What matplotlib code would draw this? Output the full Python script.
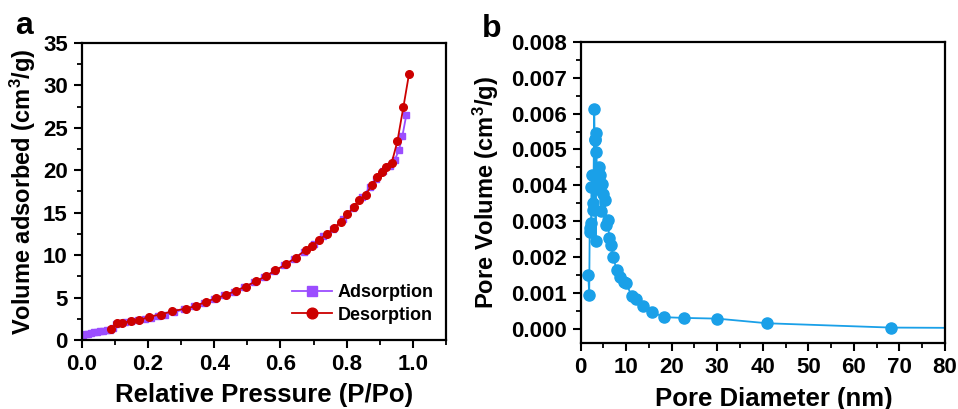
import matplotlib
matplotlib.use("Agg")
import matplotlib.pyplot as plt
from matplotlib.ticker import MultipleLocator, AutoMinorLocator

plt.rcParams['font.family'] = ['Liberation Sans', 'DejaVu Sans']
plt.rcParams['font.weight'] = 'bold'
plt.rcParams['mathtext.default'] = 'regular'

# N2 isotherm (panel a)
ads_p = [0.005, 0.012, 0.02, 0.028, 0.036, 0.045, 0.055, 0.065, 0.075, 0.085,
         0.095, 0.105, 0.115, 0.13, 0.15, 0.17, 0.19, 0.21, 0.23, 0.25, 0.28,
         0.31, 0.34, 0.37, 0.40, 0.43, 0.46, 0.49, 0.52, 0.55, 0.58, 0.61, 0.64,
         0.67, 0.70, 0.73, 0.76, 0.79, 0.82, 0.845, 0.87, 0.89, 0.91, 0.93,
         0.945, 0.958, 0.968, 0.98]
ads_v = [0.6, 0.68, 0.76, 0.84, 0.9, 0.96, 1.02, 1.08, 1.13, 1.2,
         1.45, 1.85, 2.05, 2.15, 2.25, 2.35, 2.5, 2.65, 2.85, 3.0, 3.3,
         3.6, 3.95, 4.4, 4.8, 5.25, 5.7, 6.2, 6.8, 7.4, 8.1, 8.8, 9.55,
         10.4, 11.3, 12.2, 13.1, 14.3, 15.6, 16.8, 18.0, 19.0, 19.9, 20.5,
         21.2, 22.4, 24.0, 26.5]
des_p = [0.088, 0.108, 0.123, 0.148, 0.173, 0.203, 0.238, 0.274, 0.314, 0.344,
         0.374, 0.404, 0.435, 0.465, 0.495, 0.525, 0.555, 0.585, 0.616, 0.646,
         0.676, 0.696, 0.716, 0.741, 0.762, 0.782, 0.802, 0.822, 0.837, 0.857,
         0.877, 0.892, 0.907, 0.920, 0.936, 0.953, 0.971, 0.988]
des_v = [1.3, 2.0, 2.05, 2.2, 2.3, 2.75, 3.0, 3.4, 3.7, 4.0,
         4.5, 4.9, 5.3, 5.8, 6.3, 6.9, 7.5, 8.2, 8.9, 9.7,
         10.6, 11.1, 11.8, 12.5, 13.2, 13.9, 14.8, 15.7, 16.5, 17.1,
         18.3, 19.2, 19.8, 20.4, 20.9, 23.4, 27.4, 31.3]

# pore size distribution (panel b)
pore_d = [1.7, 1.9, 2.0, 2.1, 2.3, 2.4, 2.6, 2.7, 2.8, 3.0, 3.1, 3.2, 3.3, 3.4,
          3.5, 3.6, 3.8, 4.0, 4.3, 4.5, 4.7, 5.0, 5.3, 5.6, 6.0, 6.3, 6.7, 7.2,
          7.9, 8.6, 9.5, 10.0, 11.2, 12.2, 13.7, 15.7, 18.4, 22.7, 30.0, 41.0,
          68.1, 85.0]
pore_v = [0.00150, 0.00095, 0.00270, 0.00280, 0.00294, 0.00395, 0.00428, 0.00350,
          0.00330, 0.00612, 0.00526, 0.00530, 0.00245, 0.00545, 0.00494, 0.00420,
          0.00390, 0.00452, 0.00430, 0.00327, 0.00405, 0.00375, 0.00360, 0.00290,
          0.00304, 0.00253, 0.00234, 0.00199, 0.00164, 0.00145, 0.00130, 0.00128,
          0.00091, 0.00083, 0.00062, 0.00046, 0.00032, 0.00030, 0.00028, 0.00015,
          0.00003, 0.00002]

purple = '#9B4DFF'
red = '#CC0000'
blue = '#1AA0E8'


def style_axis(ax):
    for s in ax.spines.values():
        s.set_linewidth(1.6)
    ax.tick_params(which='major', direction='out', length=6, width=1.5,
                   labelsize=16, pad=4)
    ax.tick_params(which='minor', direction='out', length=3.5, width=1.3)
    ax.xaxis.set_minor_locator(AutoMinorLocator(2))
    ax.yaxis.set_minor_locator(AutoMinorLocator(2))
    for lab in ax.get_xticklabels() + ax.get_yticklabels():
        lab.set_fontweight('bold')


fig = plt.figure(figsize=(9.58, 4.09), dpi=100)

# panel a
ax1 = fig.add_axes([0.0853, 0.1687, 0.3803, 0.7262])
ax1.plot(ads_p, ads_v, '-s', color=purple, ms=5, lw=1.3, label='Adsorption')
ax1.plot(des_p, des_v, '-o', color=red, ms=5.5, lw=1.3, label='Desorption')
ax1.set_xlim(0, 1.1)
ax1.set_ylim(0, 35)
ax1.xaxis.set_major_locator(MultipleLocator(0.2))
ax1.yaxis.set_major_locator(MultipleLocator(5))
ax1.xaxis.set_major_formatter(matplotlib.ticker.FormatStrFormatter('%.1f'))
style_axis(ax1)
ax1.set_xlabel('Relative Pressure (P/Po)', fontsize=18.5, fontweight='bold')
ax1.set_ylabel('Volume adsorbed (cm$^3$/g)', fontsize=17, fontweight='bold')
ax1.xaxis.set_label_coords(0.5, -0.145)
ax1.yaxis.set_label_coords(-0.121, 0.5)
ax1.legend(loc='lower right', frameon=False, fontsize=13, handlelength=2.2,
           handletextpad=0.3, labelspacing=0.3, markerscale=1.4,
           bbox_to_anchor=(1.01, 0.0))
fig.text(0.016, 0.918, 'a', fontsize=23, fontweight='bold')

# panel b
ax2 = fig.add_axes([0.606, 0.1614, 0.3804, 0.7359])
ax2.plot(pore_d, pore_v, '-o', color=blue, ms=8, lw=1.3)
ax2.set_xlim(0, 80)
ax2.set_ylim(-0.0004, 0.008)
ax2.xaxis.set_major_locator(MultipleLocator(10))
ax2.yaxis.set_major_locator(MultipleLocator(0.001))
ax2.yaxis.set_major_formatter(matplotlib.ticker.FormatStrFormatter('%.3f'))
style_axis(ax2)
ax2.set_xlabel('Pore Diameter (nm)', fontsize=18.5, fontweight='bold')
ax2.set_ylabel('Pore Volume (cm$^3$/g)', fontsize=17, fontweight='bold')
ax2.xaxis.set_label_coords(0.53, -0.145)
ax2.yaxis.set_label_coords(-0.218, 0.5)
fig.text(0.503, 0.91, 'b', fontsize=23, fontweight='bold')

fig.savefig('out.png', dpi=100)
